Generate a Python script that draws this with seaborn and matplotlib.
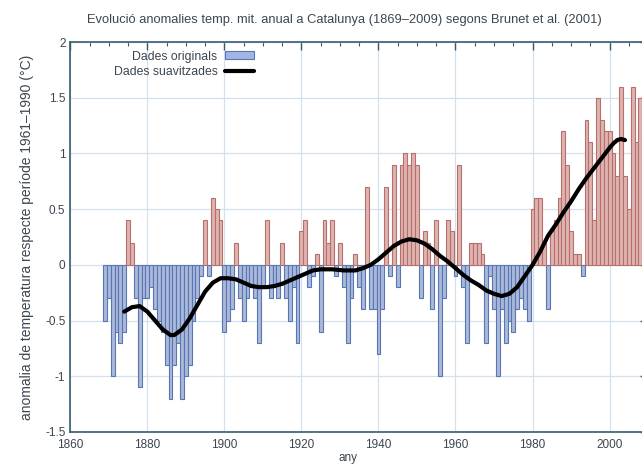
import numpy as np
import pandas as pd
import matplotlib
matplotlib.use('Agg')
import matplotlib.pyplot as plt
import seaborn as sns
from matplotlib.ticker import MultipleLocator, FormatStrFormatter
from matplotlib.patches import Patch
from matplotlib.lines import Line2D

# annual anomalies, 1869..2009 (°C, ref 1961-1990)
years = list(range(1869, 2010))
anomalies = [
    -0.5, -0.3, -1.0, -0.6, -0.7, -0.6, 0.4, 0.2, -0.3, -1.1,   # 1869-1878
    -0.3, -0.3, -0.2, -0.4, -0.5, -0.6, -0.9, -1.2, -0.9, -0.7,  # 1879-1888
    -1.2, -1.0, -0.9, -0.5, -0.3, -0.1, 0.4, -0.1, 0.6, 0.5,     # 1889-1898
    0.4, -0.6, -0.5, -0.4, 0.2, -0.3, -0.5, -0.3, -0.2, -0.3,    # 1899-1908
    -0.7, -0.2, 0.4, -0.3, -0.2, -0.3, 0.2, -0.3, -0.5, -0.2,    # 1909-1918
    -0.7, 0.3, 0.4, -0.2, -0.1, 0.1, -0.6, 0.4, 0.2, 0.4,        # 1919-1928
    -0.1, 0.2, -0.2, -0.7, -0.3, 0.1, -0.2, -0.4, 0.7, -0.4,     # 1929-1938
    -0.4, -0.8, -0.4, 0.7, -0.1, 0.9, -0.2, 0.9, 1.0, 0.9,       # 1939-1948
    1.0, 0.9, -0.3, 0.3, 0.2, -0.4, 0.4, -1.0, -0.3, 0.4,        # 1949-1958
    0.3, -0.1, 0.9, -0.2, -0.7, 0.2, 0.2, 0.2, 0.1, -0.7,        # 1959-1968
    -0.1, -0.4, -1.0, -0.4, -0.7, -0.5, -0.6, -0.4, -0.3, -0.4,  # 1969-1978
    -0.5, 0.5, 0.6, 0.6, 0.2, -0.4, 0.3, 0.4, 0.6, 1.2,          # 1979-1988
    0.9, 0.3, 0.1, 0.1, -0.1, 1.3, 1.1, 0.4, 1.5, 1.3,           # 1989-1998
    1.2, 1.2, 1.0, 0.8, 1.6, 0.8, 0.5, 1.6, 1.1, 1.5,            # 1999-2008
    1.2,                                                         # 2009
]

# smoothed series
smooth_years = [1874, 1876, 1878, 1880, 1882, 1884, 1886, 1887, 1889, 1891,
                1893, 1895, 1897, 1899, 1901, 1903, 1905, 1907, 1909, 1911,
                1913, 1915, 1917, 1919, 1921, 1923, 1925, 1928, 1931, 1934,
                1936, 1938, 1940, 1942, 1944, 1946, 1948, 1950, 1952, 1954,
                1956, 1958, 1960, 1962, 1964, 1966, 1968, 1970, 1972, 1974,
                1976, 1978, 1980, 1982, 1984, 1986, 1988, 1990, 1992, 1994,
                1996, 1998, 2000, 2001, 2002, 2003, 2004]
smooth_values = [-0.42, -0.38, -0.37, -0.42, -0.50, -0.58, -0.63, -0.63, -0.58, -0.48,
                 -0.36, -0.24, -0.16, -0.12, -0.12, -0.13, -0.16, -0.19, -0.20, -0.20,
                 -0.19, -0.17, -0.14, -0.11, -0.08, -0.05, -0.04, -0.04, -0.05, -0.05,
                 -0.03, 0.0, 0.05, 0.11, 0.17, 0.21, 0.23, 0.22, 0.19, 0.14,
                 0.08, 0.03, -0.03, -0.09, -0.14, -0.18, -0.23, -0.26, -0.28, -0.26,
                 -0.20, -0.10, 0.0, 0.12, 0.26, 0.36, 0.47, 0.57, 0.68, 0.78,
                 0.87, 0.96, 1.05, 1.09, 1.12, 1.13, 1.12]

TITLE = 'Evolució anomalies temp. mit. anual a Catalunya (1869–2009) segons Brunet et al. (2001)'
YLABEL = 'anomalia de temperatura respecte període 1961–1990 (°C)'
XLABEL = 'any'

POS_FILL, POS_EDGE = '#e6aea8', '#b86f6c'
NEG_FILL, NEG_EDGE = '#a3b5e2', '#5676b4'
AXIS_COL = '#355d6e'
GRID_COL = '#d3e1ee'
TEXT_COL = '#3c4650'


def main():
    sns.set_style('white')
    plt.rcParams['font.family'] = ['Liberation Sans', 'DejaVu Sans']

    df = pd.DataFrame({'any': years, 'anomalia': anomalies})
    df['signe'] = np.where(df['anomalia'] >= 0, 'pos', 'neg')
    sm = pd.DataFrame({'any': smooth_years, 'valor': smooth_values})

    fig = plt.figure(figsize=(6.42, 4.67), dpi=100)
    ax = fig.add_axes([0.1095, 0.075, 0.9, 0.835])

    sns.barplot(data=df, x='any', y='anomalia', hue='signe', native_scale=True,
                palette={'pos': POS_FILL, 'neg': NEG_FILL}, width=1.0,
                linewidth=0.8, legend=False, ax=ax, zorder=2)
    for p in ax.patches:
        p.set_edgecolor(POS_EDGE if p.get_height() >= 0 else NEG_EDGE)

    sns.lineplot(data=sm, x='any', y='valor', color='black', linewidth=3.0,
                 ax=ax, zorder=4)

    ax.set_xlim(1860, 2010)
    ax.set_ylim(-1.5, 2)
    ax.xaxis.set_major_locator(MultipleLocator(20))
    ax.xaxis.set_minor_locator(MultipleLocator(5))
    ax.yaxis.set_major_locator(MultipleLocator(0.5))
    ax.yaxis.set_minor_locator(MultipleLocator(0.1))
    ax.yaxis.set_major_formatter(FormatStrFormatter('%g'))
    ax.grid(True, which='major', color=GRID_COL, linewidth=0.9, zorder=0)
    ax.set_axisbelow(True)

    for s in ax.spines.values():
        s.set_color(AXIS_COL)
        s.set_linewidth(1.2)
    ax.tick_params(which='both', direction='in', top=True, right=True,
                   colors=AXIS_COL, labelcolor=TEXT_COL, labelsize=8.5)
    ax.tick_params(which='major', length=6, width=1)
    ax.tick_params(which='minor', length=3, width=0.8)
    ax.tick_params(axis='x', which='major', pad=5)

    ax.set_title(TITLE, fontsize=9.3, color=TEXT_COL, pad=14, x=0.475)
    ax.set_xlabel(XLABEL, fontsize=8.5, color=TEXT_COL, labelpad=1, x=0.48)
    ax.set_ylabel(YLABEL, fontsize=10, color=TEXT_COL, labelpad=8)

    handles = [Patch(facecolor=NEG_FILL, edgecolor=NEG_EDGE, linewidth=0.8),
               Line2D([0], [0], color='black', linewidth=3.0)]
    ax.legend(handles, ['Dades originals', 'Dades suavitzades'], loc='upper left',
              bbox_to_anchor=(0.06, 1.0), frameon=False, markerfirst=False,
              fontsize=8.8, labelcolor=TEXT_COL, handlelength=2.4, handleheight=0.6,
              handletextpad=0.6, labelspacing=0.25, borderaxespad=0.3)

    fig.savefig('out.png', dpi=100)


if __name__ == '__main__':
    main()
